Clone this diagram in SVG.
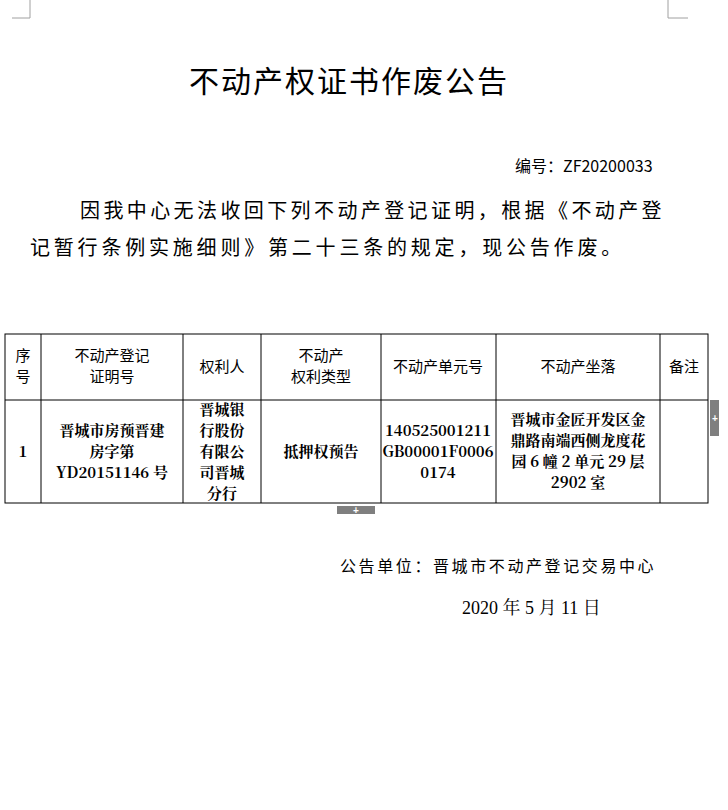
<svg xmlns="http://www.w3.org/2000/svg" width="728" height="810" viewBox="0 0 728 810">
<style>
.t{font-family:"Noto Sans CJK SC",sans-serif;fill:#000}
.s{font-family:"Noto Serif CJK SC","Liberation Serif","Noto Sans CJK SC",serif;font-weight:bold;font-size:15px;fill:#000;text-anchor:middle}
.h{font-family:"Noto Sans CJK SC",sans-serif;font-size:15px;fill:#000;text-anchor:middle}
.l{stroke:#000;stroke-width:1;fill:none}
</style>
<rect width="728" height="810" fill="#fff"/>
<g stroke="#a0a0a0" fill="none"><path d="M30 0V18H12"/><path d="M668 0V18H688"/></g>
<text class="t" x="349" y="92" font-size="30" letter-spacing="2" text-anchor="middle">不动产权证书作废公告</text>
<text class="t" x="515" y="172" font-size="16">编号：ZF20200033</text>
<text class="t" x="80" y="218" font-size="20" letter-spacing="3.4">因我中心无法收回下列不动产登记证明，根据《不动产登</text>
<text class="t" x="30" y="255" font-size="20" letter-spacing="3.8">记暂行条例实施细则》第二十三条的规定，现公告作废。</text>
<g id="table">
<rect class="l" x="5" y="334" width="703" height="169"/>
<path class="l" d="M5 400H708M41 334V503M183 334V503M261 334V503M381 334V503M496 334V503M660 334V503"/>
<text class="h" x="23" y="361">序</text><text class="h" x="23" y="382">号</text>
<text class="h" x="112" y="361">不动产登记</text><text class="h" x="112" y="382">证明号</text>
<text class="h" x="222" y="372">权利人</text>
<text class="h" x="321" y="361">不动产</text><text class="h" x="321" y="382">权利类型</text>
<text class="h" x="438" y="372">不动产单元号</text>
<text class="h" x="578" y="372">不动产坐落</text>
<text class="h" x="684" y="372">备注</text>
<text class="s" x="23" y="457">1</text>
<text class="s" x="112" y="436">晋城市房预晋建</text><text class="s" x="112" y="457">房字第</text><text class="s" x="112" y="478">YD20151146 号</text>
<text class="s" x="222" y="415">晋城银</text><text class="s" x="222" y="436">行股份</text><text class="s" x="222" y="457">有限公</text><text class="s" x="222" y="478">司晋城</text><text class="s" x="222" y="499">分行</text>
<text class="s" x="321" y="457">抵押权预告</text>
<text class="s" x="438" y="436">140525001211</text><text class="s" x="438" y="457">GB00001F0006</text><text class="s" x="438" y="478">0174</text>
<text class="s" x="578" y="425">晋城市金匠开发区金</text><text class="s" x="578" y="446">鼎路南端西侧龙度花</text><text class="s" x="578" y="467">园 6 幢 2 单元 29 层</text><text class="s" x="578" y="488">2902 室</text>
</g>
<g fill="#7f7f7f"><rect x="337" y="506" width="38" height="8"/><rect x="710" y="400" width="9" height="36"/></g>
<g fill="#fff" font-family="Liberation Sans" font-size="10" font-weight="bold" text-anchor="middle"><text x="356" y="514">+</text><text x="715" y="422">+</text></g>
<text class="t" x="340" y="572" font-size="16" letter-spacing="2.6">公告单位：晋城市不动产登记交易中心</text>
<text x="462" y="614" font-size="18" font-family="Liberation Serif,Noto Serif CJK SC,Noto Sans CJK SC,serif">2020 年 5 月 11 日</text>
</svg>
